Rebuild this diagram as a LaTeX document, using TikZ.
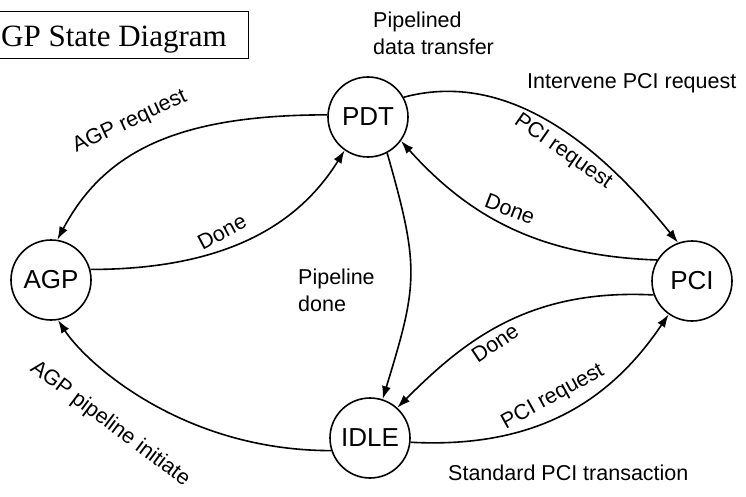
\documentclass[tikz,border=0pt]{standalone}
\usepackage{fontspec}
\setmainfont{Liberation Sans}
\newfontfamily\titlefont{Liberation Serif}
\usetikzlibrary{arrows.meta}

\begin{document}
\begin{tikzpicture}[x=1pt,y=1pt,>={Latex[length=13pt,width=9pt]},
    state/.style={draw,circle,line width=1.6pt,minimum size=80pt,inner sep=0pt,
      font=\fontsize{26}{26}\selectfont},
    lbl/.style={font=\fontsize{21.5}{27}\selectfont,inner sep=0pt}]
    \useasboundingbox (0,0) rectangle (746,-497);
    % title box, cut at the left edge
    \node[anchor=base west,inner sep=0pt,font=\titlefont\fontsize{31}{31}\selectfont]
      (title) at (1,-47) {GP State Diagram};
    \draw[line width=1pt] (0,-12) -| (248,-59) -- (0,-59);
    % states
    \node[state] (PDT) at (368,-117) {PDT};
    \node[state] (AGP) at (51,-280) {AGP};
    \node[state] (PCI) at (692,-281) {PCI};
    \node[state] (IDLE) at (370,-438) {IDLE};
    % free texts
    \node[lbl,anchor=north west,align=left] (pdtnote) at (373,-12)
      {Pipelined\\data transfer};
    \node[lbl,anchor=north west,align=left] (pipenote) at (298,-269)
      {Pipeline\\done};
    \node[lbl,anchor=base west] (intnote) at (527,-89) {Intervene PCI request};
    \node[lbl,anchor=base west] (stdnote) at (448,-480) {Standard PCI transaction};
    % transition labels
    \node[lbl,rotate=25] (agpreq) at (130,-122) {AGP request};
    \node[lbl,rotate=28] (done1) at (222,-232) {Done};
    \node[lbl,rotate=-35] (pcireq1) at (563,-152) {PCI request};
    \node[lbl,rotate=-21] (done2) at (510,-209) {Done};
    \node[lbl,rotate=34] (done3) at (495,-343) {Done};
    \node[lbl,rotate=29] (pcireq2) at (553,-397) {PCI request};
    \node[lbl,rotate=-37] (agppipe) at (110,-424) {AGP pipeline initiate};
    % transitions
    \path[->,line width=1.6pt]
      (PDT.177) edge[out=180,in=62,out distance=150,in distance=100] (AGP.81)
      (AGP.15) edge[out=0,in=238,out distance=150,in distance=75] (PDT.235)
      (PDT.29) edge[out=15,in=129,out distance=120,in distance=100] (PCI.110)
      (PCI.149) edge[out=178,in=312,out distance=120,in distance=100] (PDT.-36)
      (PDT.-62) edge[out=-74,in=73,distance=120] (IDLE.72)
      (PCI.200) edge[out=177,in=45,out distance=125,in distance=95] (IDLE.48)
      (IDLE.-6) edge[out=-3,in=236,out distance=130,in distance=100] (PCI.235)
      (IDLE.198) edge[out=180,in=303,out distance=150,in distance=50] (AGP.-80);
\end{tikzpicture}
\end{document}
